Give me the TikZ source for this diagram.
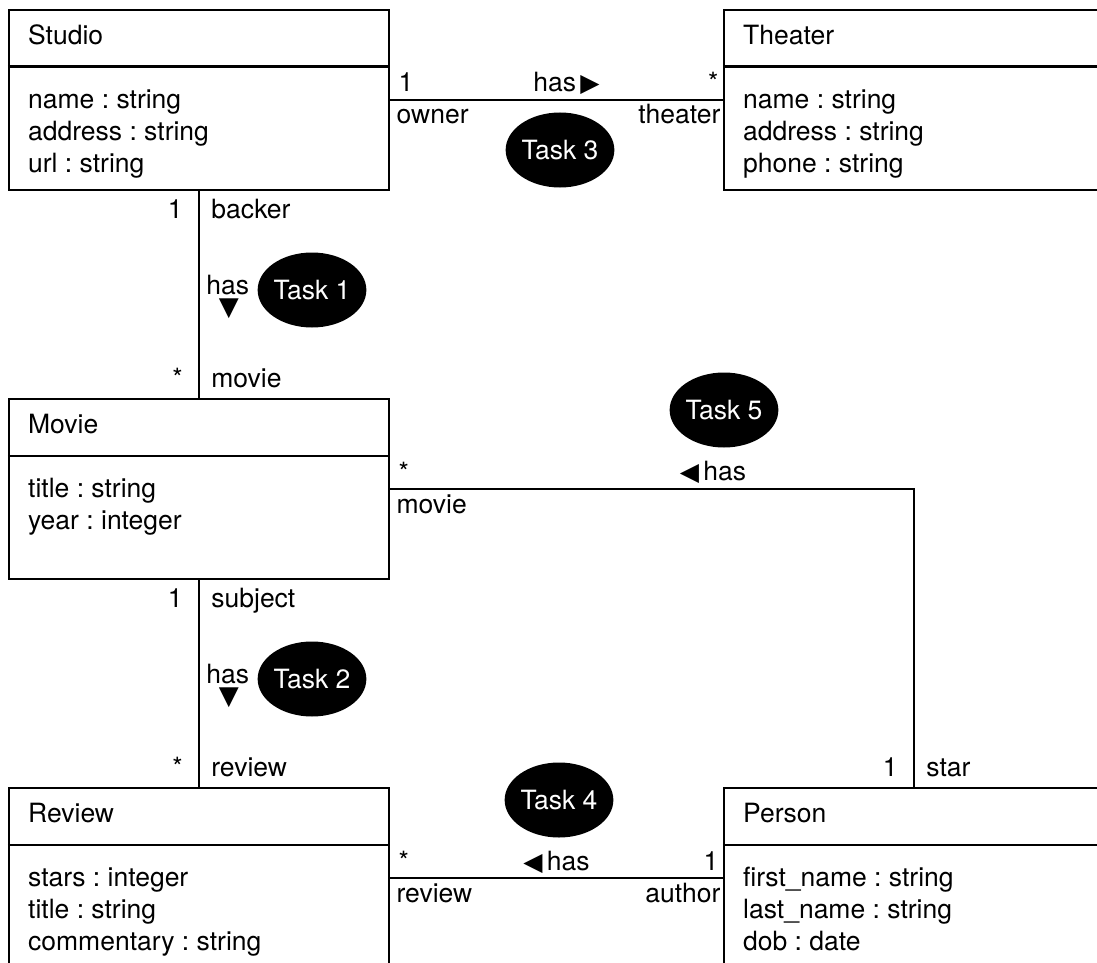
\documentclass[tikz,border=0pt]{standalone}
\usepackage{fontspec}
\setmainfont{TeX Gyre Heros}
\newfontfamily\symfont{DejaVu Sans}
\usetikzlibrary{shapes,positioning,calc}
\frenchspacing
\newcommand{\rtri}{{\symfont\fontsize{12.5}{12.5}\selectfont ▶}}
\newcommand{\ltri}{{\symfont\fontsize{12.5}{12.5}\selectfont ◀}}
\newcommand{\dtri}{\smash{\symfont\fontsize{13}{13}\selectfont ▼}}

\begin{document}
\begin{tikzpicture}[x=0.5pt,y=-0.5pt,
		every node/.style={inner sep=0pt, font=\fontsize{13.25}{16}\selectfont},
		umlclass/.style={draw, rectangle, line width=1.25pt, minimum width=190pt, minimum height=90pt},
		task/.style={fill=black, ellipse, text=white, minimum width=54pt, minimum height=37.5pt},
		assoc/.style={line width=1.25pt},
		lbl/.style={anchor=base west},
		rlbl/.style={anchor=base east}]
	\useasboundingbox (0,0) rectangle (1097,963);
	\clip (0,0) rectangle (1097,963);

	\node[umlclass] (studio) at (199,100) {};
	\node[umlclass] (theater) at (914,100) {};
	\node[umlclass] (movie) at (199,489) {};
	\node[umlclass] (review) at (199,878) {};
	\node[umlclass] (person) at (914,878) {};

	\foreach \c/\t in {studio/Studio, theater/Theater, movie/Movie, review/Review, person/Person} {
		\draw[assoc] ($(\c.north west)+(0,58)$) -- ($(\c.north east)+(0,58)$);
		\node[lbl] (\c-title) at ($(\c.north west)+(20,36)$) {\t};
	}
	\foreach \a [count=\i] in {name : string, address : string, url : string}
		\node[lbl] (studio-a\i) at ($(studio.north west)+(20,68+32*\i)$) {\a};
	\foreach \a [count=\i] in {name : string, address : string, phone : string}
		\node[lbl] (theater-a\i) at ($(theater.north west)+(20,68+32*\i)$) {\a};
	\foreach \a [count=\i] in {title : string, year : integer}
		\node[lbl] (movie-a\i) at ($(movie.north west)+(20,68+32*\i)$) {\a};
	\foreach \a [count=\i] in {stars : integer, title : string, commentary : string}
		\node[lbl] (review-a\i) at ($(review.north west)+(20,68+32*\i)$) {\a};
	\foreach \a [count=\i] in {first\_name : string, last\_name : string, dob : date}
		\node[lbl] (person-a\i) at ($(person.north west)+(20,68+32*\i)$) {\a};

	\draw[assoc] (studio) -- (theater);
	\draw[assoc] (studio) -- (movie);
	\draw[assoc] (movie) -| (person);
	\draw[assoc] (movie) -- (review);
	\draw[assoc] (review) -- (person);

	\node[lbl] (own-m) at ($(studio.east)+(8,-8)$) {1};
	\node[lbl] (own-r) at ($(studio.east)+(6,24)$) {owner};
	\node[rlbl] (thr-m) at ($(theater.west)+(-4,-8)$) {*};
	\node[rlbl] (thr-r) at ($(theater.west)+(-2,24)$) {theater};
	\node[anchor=base] (has3) at ($(studio.east)!0.5!(theater.west)+(10,-8)$) {has\,\rtri};

	\node[rlbl] (bck-m) at ($(studio.south)+(-16,27)$) {1};
	\node[lbl] (bck-r) at ($(studio.south)+(12,27)$) {backer};
	\node[rlbl] (mov1-m) at ($(movie.north)+(-16,-10)$) {*};
	\node[lbl] (mov1-r) at ($(movie.north)+(12,-10)$) {movie};
	\node[lbl] (has1) at ($(studio.south)!0.5!(movie.north)+(7,0)$) {has};
	\node[anchor=base] (tri1) at ($(has1.base)+(1,21)$) {\dtri};

	\node[lbl] (mov2-m) at ($(movie.east)+(8,-8)$) {*};
	\node[lbl] (mov2-r) at ($(movie.east)+(6,24)$) {movie};
	\node[anchor=base] (has5) at (713,480) {\ltri\,has};
	\node[rlbl] (star-m) at ($(person.north)+(-16,-10)$) {1};
	\node[lbl] (star-r) at ($(person.north)+(12,-10)$) {star};

	\node[rlbl] (sub-m) at ($(movie.south)+(-16,27)$) {1};
	\node[lbl] (sub-r) at ($(movie.south)+(12,27)$) {subject};
	\node[rlbl] (rev1-m) at ($(review.north)+(-16,-10)$) {*};
	\node[lbl] (rev1-r) at ($(review.north)+(12,-10)$) {review};
	\node[lbl] (has2) at ($(movie.south)!0.5!(review.north)+(7,0)$) {has};
	\node[anchor=base] (tri2) at ($(has2.base)+(1,21)$) {\dtri};

	\node[lbl] (rev2-m) at ($(review.east)+(8,-8)$) {*};
	\node[lbl] (rev2-r) at ($(review.east)+(6,24)$) {review};
	\node[anchor=base] (has4) at ($(review.east)!0.5!(person.west)+(0,-8)$) {\ltri\,has};
	\node[rlbl] (aut-m) at ($(person.west)+(-4,-8)$) {1};
	\node[rlbl] (aut-r) at ($(person.west)+(-2,24)$) {author};

	\node[task] (task1) at (312,290) {Task 1};
	\node[task] (task2) at (312,679) {Task 2};
	\node[task] (task3) at (560,150) {Task 3};
	\node[task] (task4) at (559,800) {Task 4};
	\node[task] (task5) at (724,410) {Task 5};
\end{tikzpicture}
\end{document}
